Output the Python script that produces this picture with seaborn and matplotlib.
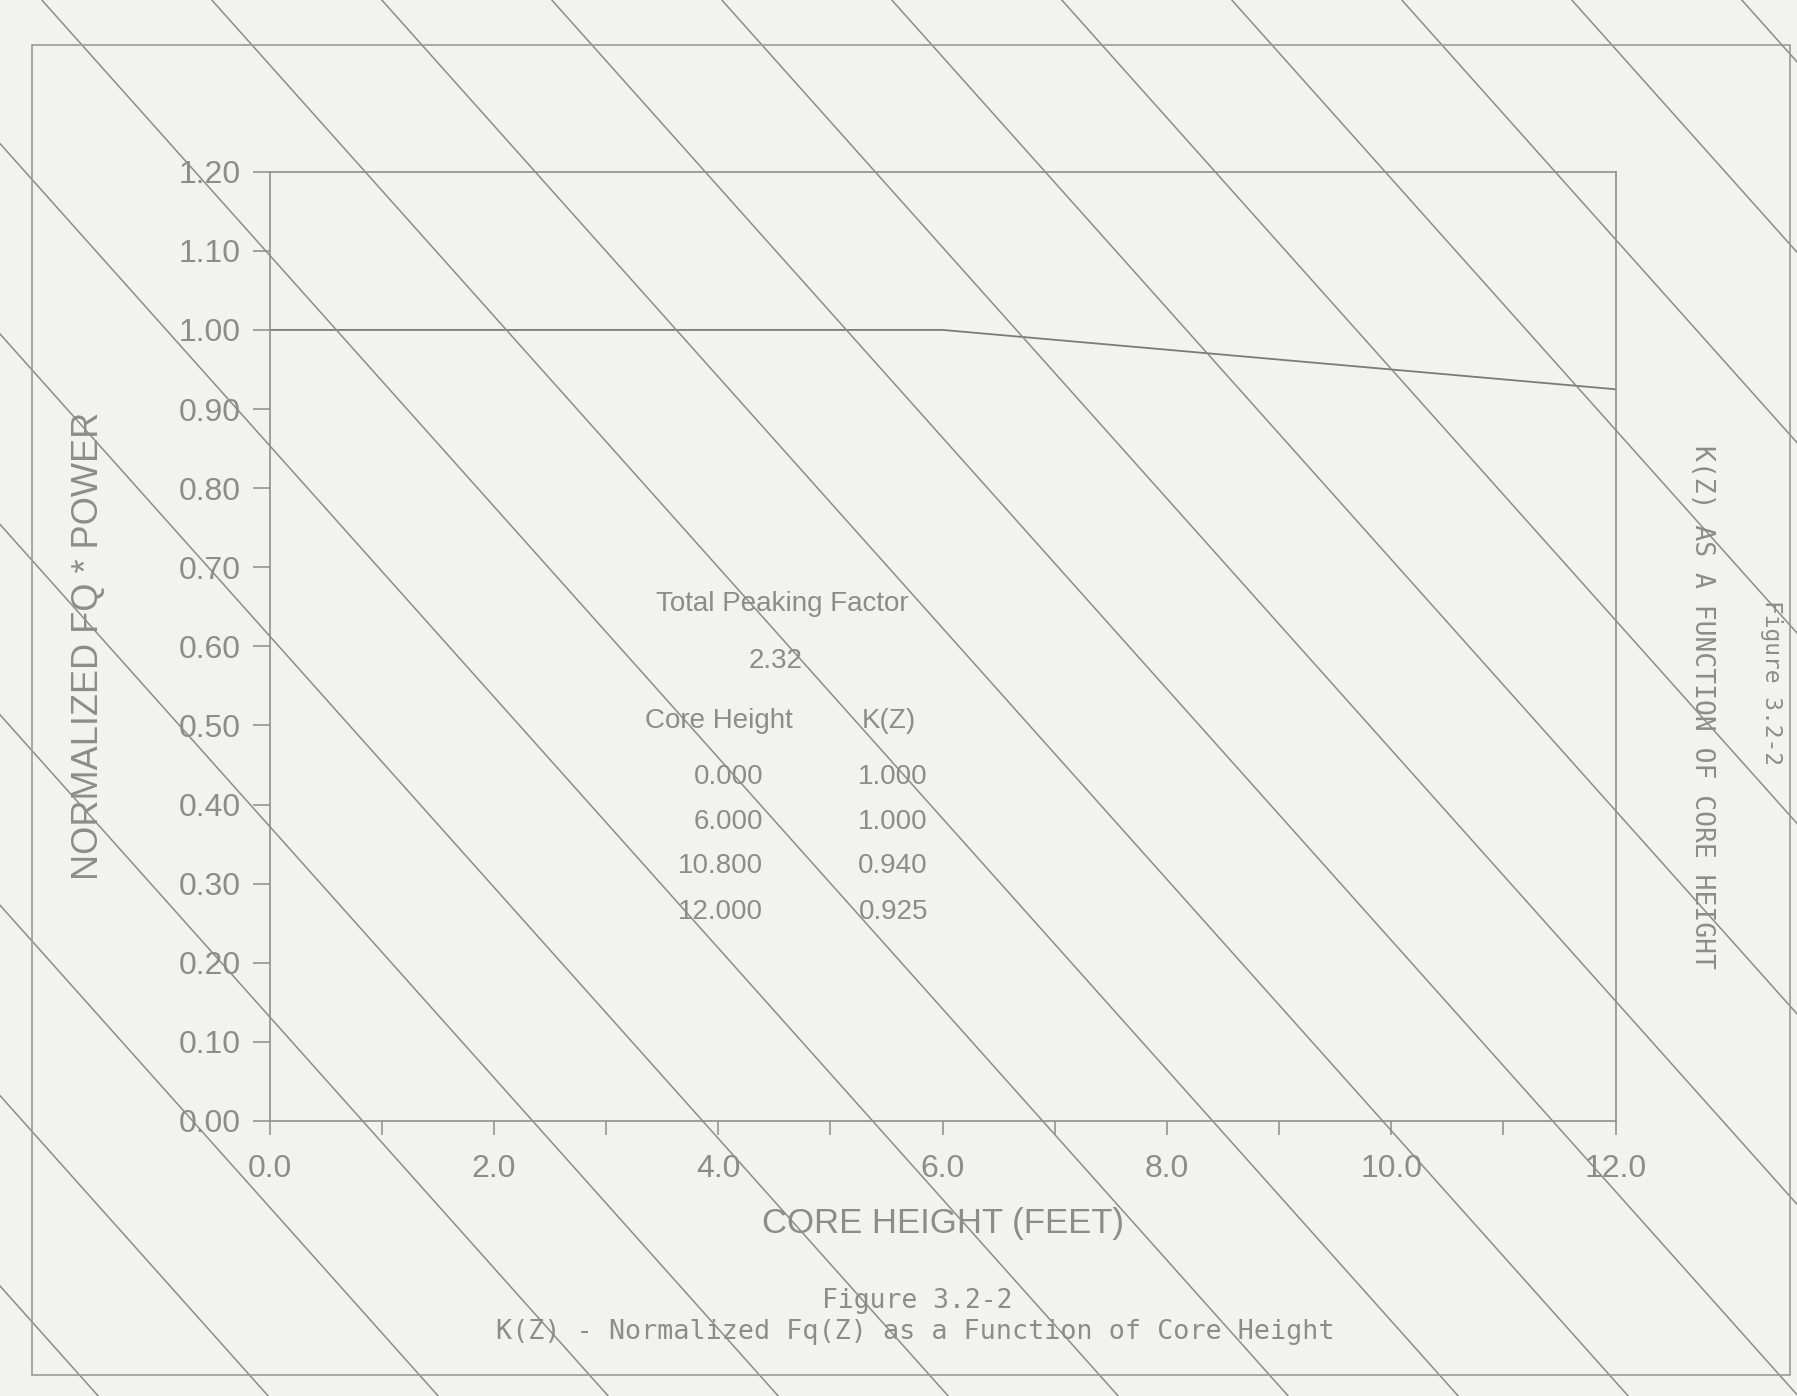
import matplotlib
matplotlib.use('Agg')
import matplotlib.pyplot as plt
from matplotlib.lines import Line2D
from matplotlib.patches import Rectangle
from matplotlib.ticker import MultipleLocator, FormatStrFormatter
import seaborn as sns
import pandas as pd
import numpy as np

# K(Z) curve points
core_height = [0.0, 6.0, 10.8, 12.0]
k_z = [1.000, 1.000, 0.940, 0.925]

# table text
table_heights = ['0.000', '6.000', '10.800', '12.000']
table_kz = ['1.000', '1.000', '0.940', '0.925']
peaking_factor = '2.32'

df = pd.DataFrame({'Core Height': core_height, 'K(Z)': k_z})

sns.set_style('white')
plt.rcParams['font.family'] = ['Liberation Sans', 'DejaVu Sans']

ink = '#8c8c8c'
paper = '#f2f2f0'
W, H = 1797, 1396

fig = plt.figure(figsize=(W / 100, H / 100), dpi=100, facecolor=paper)
ax = fig.add_axes([0.150, 0.197, 0.749, 0.680])
ax.set_facecolor(paper)

sns.lineplot(data=df, x='Core Height', y='K(Z)', ax=ax, color='#7a7a7a', linewidth=1.3)

ax.set_xlim(0, 12)
ax.set_ylim(0, 1.2)
ax.xaxis.set_major_locator(MultipleLocator(2))
ax.xaxis.set_minor_locator(MultipleLocator(1))
ax.xaxis.set_major_formatter(FormatStrFormatter('%.1f'))
ax.yaxis.set_major_locator(MultipleLocator(0.1))
ax.yaxis.set_major_formatter(FormatStrFormatter('%.2f'))
ax.tick_params(axis='x', which='both', direction='out', length=10, width=1.1,
               color=ink, labelsize=23, labelcolor=ink, pad=14, bottom=True)
ax.tick_params(axis='y', which='both', direction='out', length=12, width=1.1,
               color=ink, labelsize=23, labelcolor=ink, pad=9, left=True)
for s in ax.spines.values():
    s.set_color('#8f8f8f')
    s.set_linewidth(1.2)

ax.set_xlabel('CORE HEIGHT (FEET)', fontsize=25, color=ink, labelpad=16)
ax.set_ylabel('NORMALIZED FQ * POWER', fontsize=26, color=ink, labelpad=52)

# inset table
tk = dict(fontsize=20, color=ink, va='center')
ax.text(4.57, 0.654, 'Total Peaking Factor', ha='center', **tk)
ax.text(4.51, 0.582, peaking_factor, ha='center', **tk)
ax.text(4.01, 0.505, 'Core Height', ha='center', **tk)
ax.text(5.52, 0.505, 'K(Z)', ha='center', **tk)
row_y = [0.435, 0.378, 0.322, 0.264]
for yv, h, kv in zip(row_y, table_heights, table_kz):
    ax.text(4.40, yv, h, ha='right', **tk)
    ax.text(5.87, yv, kv, ha='right', **tk)

# captions in typewriter face
mono = ['DejaVu Sans Mono']
fig.text(917 / W, 1 - 1301 / H, 'Figure 3.2-2', ha='center', va='center',
         fontsize=19, color=ink, family=mono)
fig.text(915 / W, 1 - 1332 / H, 'K(Z) - Normalized Fq(Z) as a Function of Core Height',
         ha='center', va='center', fontsize=19.3, color=ink, family=mono)
fig.text(1771 / W, 1 - 682 / H, 'Figure 3.2-2', ha='center', va='center',
         rotation=-90, fontsize=16.5, color=ink, family=mono)
fig.text(1702 / W, 1 - 707 / H, 'K(Z) AS A FUNCTION OF CORE HEIGHT', ha='center',
         va='center', rotation=-90, fontsize=19, color=ink, family=mono)

# page border and diagonal stamp lines from the scanned sheet
fig.add_artist(Rectangle((32 / W, 1 - 1375 / H), (1790 - 32) / W, (1375 - 45) / H,
                         transform=fig.transFigure, fill=False,
                         edgecolor='#9a9a9a', linewidth=1.2))
ys = np.array([0, H])
for k in range(-14, 10):
    xs = 1210 + 170 * k + (ys - 1118) / 1.12
    fig.add_artist(Line2D(xs / W, 1 - ys / H, transform=fig.transFigure,
                          color='#8c8c8c', linewidth=1.1, zorder=0.5))

fig.savefig('out.png', dpi=100, facecolor=paper)
